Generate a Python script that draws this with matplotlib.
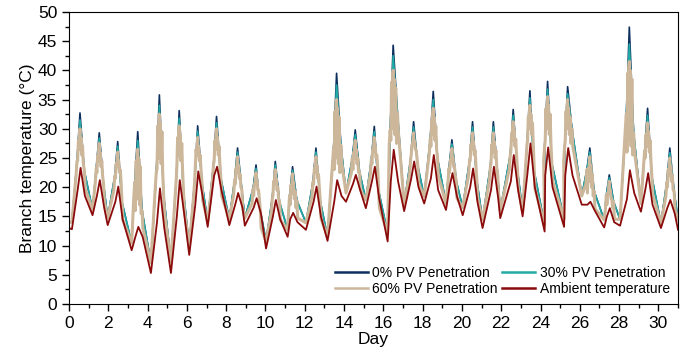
import numpy as np
import matplotlib
matplotlib.use('Agg')
import matplotlib.pyplot as plt
from matplotlib.ticker import MultipleLocator

# values, one entry per day (day 0 .. day 30)
trough_day = [0.15, 1.2, 1.97, 3.19, 4.17, 5.19, 6.12, 7.06, 8.16, 8.95, 10.03,
              11.13, 12.06, 13.16, 14.1, 15.11, 16.22, 17.06, 18.08, 19.19, 20.04,
              21.05, 21.95, 23.09, 24.21, 25.2, 26.1, 27.24, 28.05, 29.11, 30.13]
peak_day = [0.56, 1.54, 2.48, 3.5, 4.6, 5.61, 6.55, 7.51, 8.58, 9.52, 10.5,
            11.38, 12.57, 13.62, 14.57, 15.54, 16.5, 17.54, 18.54, 19.49, 20.54,
            21.6, 22.61, 23.46, 24.36, 25.38, 26.51, 27.5, 28.52, 29.45, 30.58]

amb_low = [12.8, 15.2, 13.5, 9.2, 5.3, 5.3, 8.4, 13.2, 13.5, 13.4, 9.5,
           11.5, 12.7, 10.8, 17.5, 16.4, 10.7, 15.9, 17.2, 16.1, 15.2,
           13.0, 14.7, 15.0, 12.4, 13.2, 17.0, 13.1, 13.4, 15.8, 13.0]
amb_morning = [19.5, 18.5, 17.5, 11.5, 14.0, 15.0, 17.0, 22.0, 17.0, 16.5, 15.0,
               14.5, 17.5, 17.5, 20.5, 21.0, 21.0, 21.5, 21.5, 20.0, 20.0,
               19.5, 21.0, 22.5, 22.0, 22.0, 17.0, 15.0, 18.0, 19.5, 16.5]
amb_high = [23.3, 21.2, 20.1, 13.2, 19.8, 21.2, 22.7, 23.5, 19.0, 18.1, 17.8,
            15.6, 20.1, 21.2, 22.1, 23.5, 26.4, 24.4, 25.5, 22.4, 23.2,
            23.5, 25.5, 27.5, 26.8, 26.7, 17.5, 16.4, 22.9, 22.4, 17.8]
amb_evening = [18.5, 16.5, 14.5, 11.5, 13.0, 15.5, 18.5, 19.5, 16.5, 15.5, 14.5,
               14.0, 15.0, 18.5, 19.5, 18.0, 21.0, 20.0, 19.5, 18.5, 17.5,
               18.0, 19.5, 20.0, 20.0, 22.0, 16.0, 14.0, 19.0, 17.0, 15.5]

pv_low = [14.0, 16.1, 14.7, 10.4, 7.0, 7.2, 9.8, 14.1, 14.5, 14.7, 10.7,
          12.7, 13.9, 11.5, 19.0, 17.8, 12.1, 17.0, 18.4, 17.2, 16.5,
          14.4, 16.0, 15.8, 13.5, 14.5, 18.5, 14.4, 14.5, 17.2, 13.8]
pv_morning = [24.5, 23.3, 21.9, 20.9, 22.8, 21.4, 21.2, 24.0, 21.2, 19.7, 18.2,
              18.6, 20.9, 26.9, 24.9, 24.7, 29.8, 24.8, 28.3, 23.2, 24.6,
              23.6, 25.5, 27.2, 27.0, 27.0, 23.0, 18.6, 32.6, 26.2, 20.9]
pv0_high = [32.7, 29.3, 27.8, 29.5, 35.8, 33.1, 30.5, 32.1, 26.7, 23.8, 24.4,
            23.5, 26.7, 39.5, 29.8, 30.4, 44.3, 31.2, 36.4, 28.1, 31.2,
            31.2, 33.3, 36.5, 38.1, 37.2, 26.7, 22.1, 47.4, 33.5, 26.7]
pv30_high = [31.5, 28.4, 27.0, 28.0, 34.0, 31.8, 29.6, 31.0, 26.0, 23.2, 23.8,
             22.9, 26.0, 37.5, 29.0, 29.5, 42.5, 30.3, 35.0, 27.4, 30.3,
             30.3, 32.3, 35.3, 36.8, 36.0, 26.0, 21.6, 44.5, 32.3, 25.9]
pv60_high = [30.0, 27.5, 26.0, 26.5, 32.5, 30.5, 28.5, 30.0, 25.2, 22.5, 23.0,
             22.3, 25.2, 35.0, 28.0, 28.5, 40.0, 29.3, 33.5, 26.6, 29.3,
             29.3, 31.2, 34.0, 35.5, 35.0, 25.2, 21.0, 41.5, 31.0, 25.0]
pv60_band_low = [26.5, 24.5, 23.5, 18.0, 25.0, 25.5, 25.5, 26.5, 22.5, 20.5, 20.5,
                 19.0, 22.5, 25.0, 25.0, 26.0, 30.0, 27.5, 29.0, 24.5, 26.5,
                 26.0, 28.0, 30.0, 30.0, 30.0, 21.0, 19.0, 28.0, 27.0, 22.0]
pv_evening = [22.8, 20.5, 17.4, 16.0, 18.6, 19.1, 20.7, 21.5, 19.5, 16.0, 17.4,
              17.7, 17.6, 27.2, 22.6, 19.4, 32.7, 23.5, 24.9, 21.1, 21.1,
              22.1, 22.8, 22.7, 24.0, 30.0, 19.3, 17.5, 29.3, 21.7, 19.3]

start_amb, start_pv = 13.0, 14.0
end_amb, end_pv = 12.7, 14.4


def daily_series(low, morning, high, evening, start, end, shift=0.0):
    t = [0.0]
    v = [start]
    for i in range(len(low)):
        p = peak_day[i] + shift
        t += [trough_day[i], p - 0.15, p, p + 0.22]
        v += [low[i], morning[i], high[i], evening[i]]
    t.append(31.0)
    v.append(end)
    return t, v


def band_series(start, end):
    # the 60% curve flickers fast in daytime, which shows as a band in the figure
    t = [0.0]
    v = [start]
    for i in range(len(pv_low)):
        p = peak_day[i]
        hi, lo = pv60_high[i], pv60_band_low[i]
        t += [trough_day[i], p - 0.2, p - 0.15, p - 0.12, p - 0.08, p - 0.05, p - 0.025, p,
              p + 0.025, p + 0.05, p + 0.09, p + 0.13, p + 0.17, p + 0.22, p + 0.26]
        v += [pv_low[i], pv_morning[i] - 2.5, pv_morning[i], lo - 2.0, hi - 2.0, lo, hi - 1.0, hi,
              lo, hi - 1.5, lo - 1.0, hi - 3.0, lo - 2.5, pv_evening[i], pv_evening[i] - 3.0]
    t.append(31.0)
    v.append(end)
    return t, v


plt.rcParams['font.family'] = ['Liberation Sans', 'DejaVu Sans']

fig = plt.figure(figsize=(6.94, 3.51), dpi=100)
ax = fig.add_axes([0.0994, 0.134, 0.8776, 0.832])

t0, v0 = daily_series(pv_low, pv_morning, pv0_high, pv_evening, start_pv, end_pv)
t30, v30 = daily_series(pv_low, pv_morning, pv30_high, pv_evening, start_pv, end_pv)
t60, v60 = band_series(start_pv, end_pv)
ta, va = daily_series(amb_low, amb_morning, amb_high, amb_evening, start_amb, end_amb, shift=0.03)

l0, = ax.plot(t0, v0, color='#0d2f5e', lw=1.2, label='0% PV Penetration')
l30, = ax.plot(t30, v30, color='#23aaa5', lw=1.2, label='30% PV Penetration')
l60, = ax.plot(t60, v60, color='#cdb79b', lw=2.2, label='60% PV Penetration')
la, = ax.plot(ta, va, color='#8b0a0a', lw=1.3, label='Ambient temperature')

ax.set_xlim(0, 31)
ax.set_ylim(0, 50)
ax.xaxis.set_major_locator(MultipleLocator(2))
ax.xaxis.set_minor_locator(MultipleLocator(1))
ax.yaxis.set_major_locator(MultipleLocator(5))
ax.yaxis.set_minor_locator(MultipleLocator(2.5))
ax.tick_params(which='both', direction='out', labelsize=12.5, width=1)
ax.tick_params(which='major', length=5)
ax.tick_params(which='minor', length=3)
ax.set_xlabel('Day', fontsize=12.5, labelpad=1)
ax.set_ylabel('Branch temperature (°C)', fontsize=12.5, labelpad=2)

leg = ax.legend(handles=[l0, l60, l30, la], ncol=2, loc='lower right', frameon=False,
                fontsize=10, handlelength=2.4, handletextpad=0.3, columnspacing=0.3,
                labelspacing=0.15, borderaxespad=0.2)
for h in leg.get_lines():
    h.set_linewidth(1.8)

plt.savefig('out.png', dpi=100)
